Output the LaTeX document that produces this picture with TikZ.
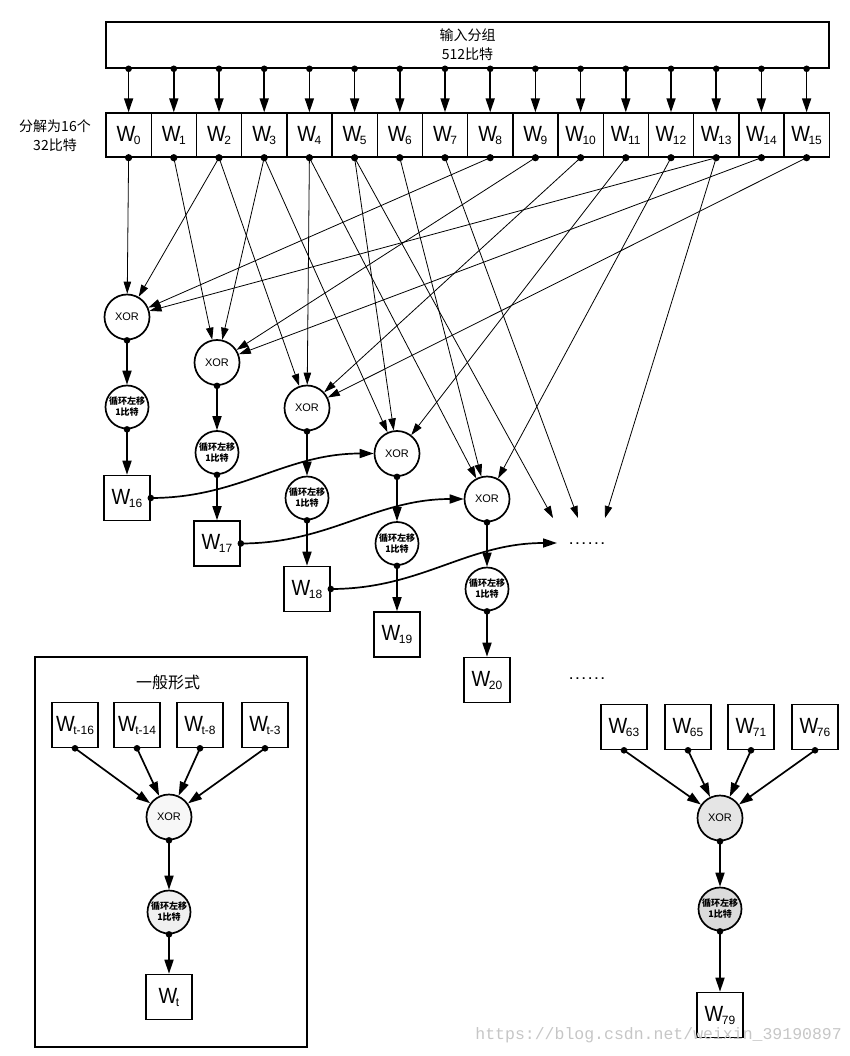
\documentclass[tikz,border=0pt]{standalone}
\usepackage{fontspec}
\usepackage{graphicx}
\setmainfont{Liberation Sans}
\newfontfamily\cjk{Noto Sans CJK SC}
\newfontfamily\wmfont{Liberation Mono}
\usetikzlibrary{arrows.meta}
\newcommand\Wsub[1]{{\fontsize{22}{22}\selectfont\scalebox{0.9}[1]{W}}\kern-1.5pt\raisebox{-3pt}{\fontsize{12}{12}\selectfont #1}}
\begin{document}
\begin{tikzpicture}[x=1pt,y=-1pt,
  wcell/.style={draw, line width=1.4pt, minimum width=45.2pt, minimum height=44pt, inner sep=0pt},
  wbox/.style={draw, line width=1.6pt, minimum width=46pt, minimum height=45pt, inner sep=0pt},
  xorn/.style={circle, draw, line width=1.7pt, minimum size=45pt, inner sep=0pt, font=\fontsize{11}{11}\selectfont},
  rotn/.style={circle, draw, line width=1.7pt, minimum size=43pt, inner sep=0pt, align=center, font=\cjk\bfseries\fontsize{9}{11}\selectfont},
  tarr/.style={line width=1.7pt, -{Triangle[length=14pt,width=9pt]}},
  farr/.style={line width=0.8pt, -{Triangle[length=12pt,width=7.5pt]}},
  cjklab/.style={align=center, font=\cjk\fontsize{14}{19}\selectfont},
  dotsn/.style={font=\bfseries\fontsize{12}{12}\selectfont, inner sep=0pt}
]
\useasboundingbox (0,0) rectangle (850,1056);

% input block
\node[draw, line width=1.6pt, minimum width=723pt, minimum height=46pt, inner sep=0pt, cjklab] (inp) at (467.5,45) {输入分组\\512比特};

% W row
\foreach \i in {0,...,15} {
  \node[wcell] (w\i) at ({106+45.2*(\i+0.5)},135) {\Wsub{\i}};
  \fill (w\i.north |- inp.south) circle (3.3pt);
  \draw[tarr] (w\i.north |- inp.south) -- (w\i.north);
  \fill (w\i.south) circle (3.6pt);
}
\node[cjklab] (lab) at (55,136) {分解为16个\\32比特};

% chain t = 16..20
\foreach \k/\x/\t in {0/127/16,1/217/17,2/307/18,3/397/19,4/487/20} {
  \node[xorn] (x\k) at (\x,{317+45.5*\k}) {XOR};
  \node[rotn] (r\k) at (\x,{407+45.5*\k}) {循环左移\\1比特};
  \node[wbox] (o\k) at (\x,{498+45.5*\k}) {\Wsub{\t}};
  \fill (x\k.south) circle (3.3pt);
  \draw[tarr] (x\k.south) -- (r\k.north);
  \fill (r\k.south) circle (3.3pt);
  \draw[tarr] (r\k.south) -- (o\k.north);
}

% thin inputs
\foreach \a/\b in {0/0,2/0,8/0,13/0, 1/1,3/1,9/1,14/1, 2/2,4/2,10/2,15/2, 3/3,5/3,11/3, 4/4,6/4,12/4}
  \draw[farr] (w\a.south) -- (x\b);

\coordinate (e1) at (553,518);
\coordinate (e2) at (578,518);
\coordinate (e3) at (605,518);
\coordinate (e4) at (557,543);
\draw[farr] (w5.south) -- (e1);
\draw[farr] (w7.south) -- (e2);
\draw[farr] (w13.south) -- (e3);

% feedback curves
\fill (o0.east) circle (3.3pt);
\draw[tarr] (o0.east) to[out=0,in=180] (x3.west);
\fill (o1.east) circle (3.3pt);
\draw[tarr] (o1.east) to[out=0,in=180] (x4.west);
\fill (o2.east) circle (3.3pt);
\draw[tarr] (o2.east) to[out=0,in=180] (e4);

\node[dotsn] (d1) at (587,544) {.\hspace{3pt}.\hspace{3pt}.\hspace{3pt}.\hspace{3pt}.\hspace{3pt}.};
\node[dotsn] (d2) at (587,679) {.\hspace{3pt}.\hspace{3pt}.\hspace{3pt}.\hspace{3pt}.\hspace{3pt}.};

% general form
\node[draw, line width=1.6pt, minimum width=272pt, minimum height=390pt, inner sep=0pt] (gbox) at (171,852) {};
\node[align=center, font=\cjk\fontsize{16}{16}\selectfont] (gtitle) at (168,682) {一般形式};
\node[wbox] (g1) at (75,725) {\Wsub{t-16}};
\node[wbox] (g2) at (137,725) {\Wsub{t-14}};
\node[wbox] (g3) at (200,725) {\Wsub{t-8}};
\node[wbox] (g4) at (265,725) {\Wsub{t-3}};
\node[xorn, fill=gray!6] (gx) at (169,817) {XOR};
\node[rotn, fill=gray!12] (gr) at (169,912) {循环左移\\1比特};
\node[wbox] (gt) at (169,997) {\Wsub{t}};
\foreach \n in {g1,g2,g3,g4} {
  \fill (\n.south) circle (3.3pt);
  \draw[tarr] (\n.south) -- (gx);
}
\fill (gx.south) circle (3.3pt);
\draw[tarr] (gx.south) -- (gr.north);
\fill (gr.south) circle (3.3pt);
\draw[tarr] (gr.south) -- (gt.north);

% W79
\node[wbox] (q1) at (624,727) {\Wsub{63}};
\node[wbox] (q2) at (688,727) {\Wsub{65}};
\node[wbox] (q3) at (751,727) {\Wsub{71}};
\node[wbox] (q4) at (815,727) {\Wsub{76}};
\node[xorn, fill=gray!20] (qx) at (720,818) {XOR};
\node[rotn, fill=gray!28] (qr) at (720,909) {循环左移\\1比特};
\node[wbox] (q79) at (720,1015) {\Wsub{79}};
\foreach \n in {q1,q2,q3,q4} {
  \fill (\n.south) circle (3.3pt);
  \draw[tarr] (\n.south) -- (qx);
}
\fill (qx.south) circle (3.3pt);
\draw[tarr] (qx.south) -- (qr.north);
\fill (qr.south) circle (3.3pt);
\draw[tarr] (qr.south) -- (q79.north);

\node[font=\wmfont\fontsize{16.5}{16.5}\selectfont, text=gray!45, anchor=east, inner sep=0pt] (wm) at (842,1035) {https://blog.csdn.net/weixin\_39190897};
\end{tikzpicture}
\end{document}
